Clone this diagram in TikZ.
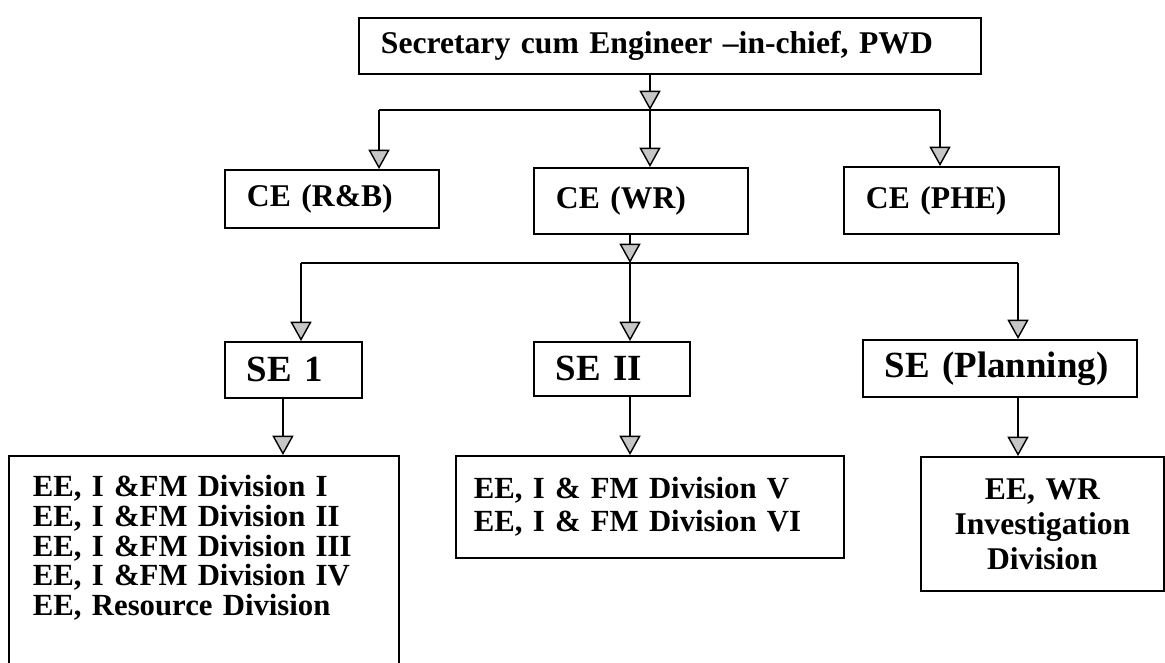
\documentclass[tikz,border=0pt]{standalone}
\usepackage{fontspec}
\setmainfont{Liberation Serif}
\usepackage{tikz}
\usetikzlibrary{arrows.meta}

\begin{document}
\begin{tikzpicture}[
    x=0.02cm, y=-0.02cm,
    box/.style={draw, line width=1.1pt, anchor=north west, align=left, inner xsep=0.44cm, inner ysep=0pt, font=\bfseries\fontsize{18}{20}\selectfont},
    sebox/.style={box, font=\bfseries\fontsize{21}{24}\selectfont},
    eebox/.style={box, inner xsep=0.48cm, inner ysep=0.38cm, font=\bfseries\fontsize{17.5}{17}\selectfont},
    arrow/.style={-{Triangle[width=12pt, length=11pt, fill=gray!45]}, line width=0.8pt},
    link/.style={line width=0.8pt}
]
\useasboundingbox (0,0) rectangle (1165,662);
\clip (0,0) rectangle (1165,662);

\node[box, text width=11.56cm, minimum height=1.12cm] (sec) at (358,17) {Secretary cum Engineer --in-chief, PWD};

\node[box, text width=3.4cm, minimum height=1.16cm] (rb) at (224,169) {CE (R\&B)};
\node[box, text width=3.4cm, minimum height=1.32cm] (wr) at (533,167) {CE (WR)};
\node[box, text width=3.42cm, minimum height=1.34cm] (phe) at (843,166) {CE (PHE)};

\node[sebox, text width=1.86cm, minimum height=1.12cm] (se1) at (224,341) {SE 1};
\node[sebox, text width=2.24cm, minimum height=1.08cm] (se2) at (533,341) {SE II};
\node[sebox, text width=4.6cm, minimum height=1.14cm] (sep) at (862,339) {SE (Planning)};

\node[eebox, text width=6.84cm, text depth=3.4cm] (ee1) at (8,455) {EE, I \&FM Division I\\ EE, I \&FM Division II\\ EE, I \&FM Division III\\ EE, I \&FM Division IV\\ EE, Resource Division};
\node[eebox, text width=7.04cm, inner xsep=0.36cm, inner ysep=0pt, minimum height=2.04cm, font=\bfseries\fontsize{17.5}{19}\selectfont] (ee2) at (455,455) {EE, I \& FM Division V\\ EE, I \& FM Division VI};
\node[box, text width=4.46cm, inner xsep=0.2cm, align=center, minimum height=2.68cm] (ee3) at (920,456) {EE, WR\\ Investigation\\ Division};

\coordinate (t1) at (650,110);
\coordinate (t1l) at (379,110);
\coordinate (t1r) at (940,110);
\draw[arrow] (t1 |- sec.south) -- (t1);
\draw[link] (t1l) -- (t1r);
\draw[arrow] (t1l) -- (t1l |- rb.north);
\draw[arrow] (t1) -- (t1 |- wr.north);
\draw[arrow] (t1r) -- (t1r |- phe.north);

\coordinate (t2) at (630,263);
\coordinate (t2l) at (301,263);
\coordinate (t2r) at (1018,263);
\draw[arrow] (t2 |- wr.south) -- (t2);
\draw[link] (t2l) -- (t2r);
\draw[arrow] (t2l) -- (t2l |- se1.north);
\draw[arrow] (t2) -- (t2 |- se2.north);
\draw[arrow] (t2r) -- (t2r |- sep.north);

\draw[arrow] ([xshift=-0.21cm]se1.south) -- ([xshift=-0.21cm]se1.south |- ee1.north);
\draw[arrow] (t2 |- se2.south) -- (t2 |- ee2.north);
\draw[arrow] (t2r |- sep.south) -- (t2r |- ee3.north);
\end{tikzpicture}
\end{document}
